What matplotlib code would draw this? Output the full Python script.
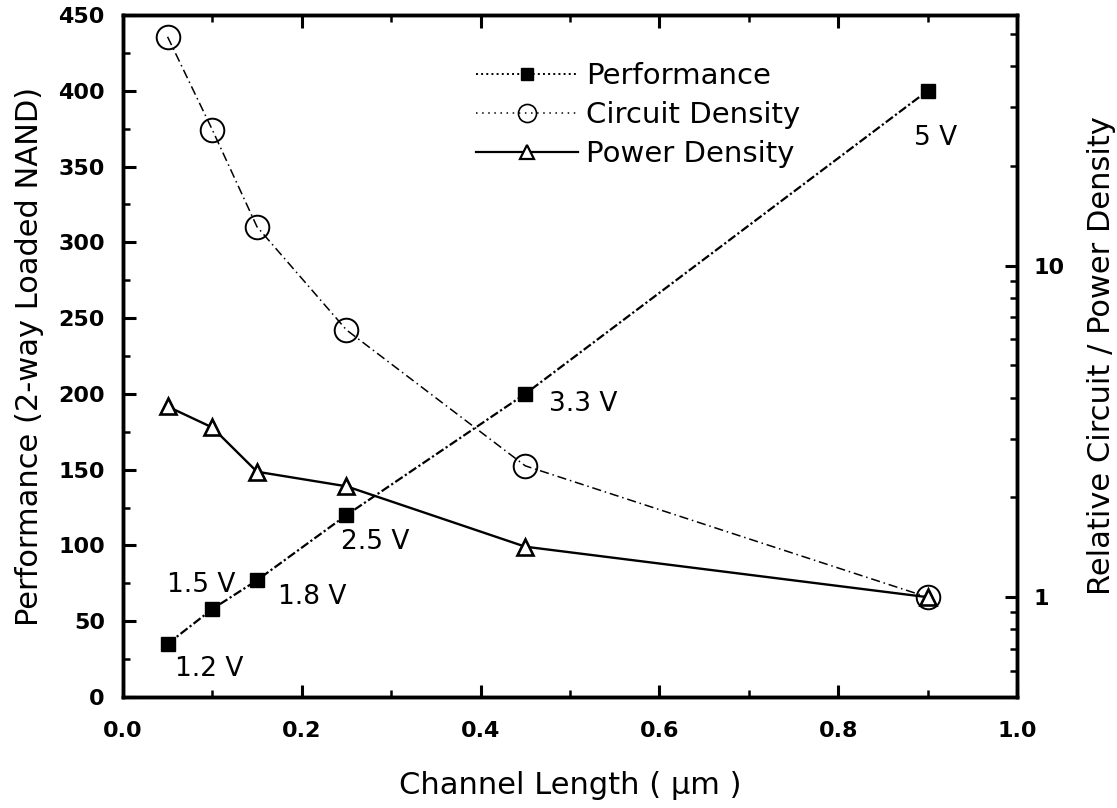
import matplotlib
matplotlib.use("Agg")
import matplotlib.pyplot as plt
from matplotlib.ticker import FixedLocator, NullFormatter, FixedFormatter
from matplotlib.lines import Line2D

plt.rcParams['font.family'] = ['DejaVu Sans']

channel_length = [0.05, 0.10, 0.15, 0.25, 0.45, 0.90]
performance = [35, 58, 77, 120, 200, 400]
circuit_density = [49, 25.7, 13.1, 6.4, 2.49, 1.0]
power_density = [3.76, 3.25, 2.39, 2.16, 1.42, 1.0]
voltage_labels = ["1.2 V", "1.5 V", "1.8 V", "2.5 V", "3.3 V", "5 V"]
label_offsets = [(30, -18), (-8, 17), (40, -12), (21, -19), (42, -7), (6, -34)]

fig = plt.figure(figsize=(11.17, 8.08), dpi=100)
ax = fig.add_axes([0.110, 0.1374, 0.8005, 0.8440])
ax2 = ax.twinx()

# performance on left axis
ax.plot(channel_length, performance, color='black', lw=1.6,
        linestyle=(0, (4, 1.2, 1, 1.2)), marker='s', markersize=10,
        markerfacecolor='black', markeredgecolor='black', zorder=3)
for xv, yv, lab, off in zip(channel_length, performance, voltage_labels, label_offsets):
    ax.annotate(lab, (xv, yv), xytext=off, textcoords='offset points',
                ha='center', va='center', fontsize=19)

# right axis: densities
ax2.set_yscale('log')
ax2.plot(channel_length, circuit_density, color='black', lw=1.1,
         linestyle=(0, (6, 2.5, 1, 2.5)), marker='o', markersize=17,
         markerfacecolor='none', markeredgecolor='black', markeredgewidth=1.4,
         zorder=3)
ax2.plot(channel_length, power_density, color='black', lw=1.7,
         linestyle='-', marker='^', markersize=12,
         markerfacecolor='white', markeredgecolor='black', markeredgewidth=1.9,
         zorder=3)

ax.set_xlim(0.0, 1.0)
ax.set_ylim(0, 450)
ax2.set_ylim(0.5, 57)

ax.set_xticks([0.0, 0.2, 0.4, 0.6, 0.8, 1.0])
ax.set_xticks([0.1, 0.3, 0.5, 0.7, 0.9], minor=True)
ax.set_yticks(range(0, 451, 50))
ax.set_yticks(range(25, 451, 50), minor=True)

ax2.yaxis.set_major_locator(FixedLocator([1, 10]))
ax2.yaxis.set_major_formatter(FixedFormatter(['1', '10']))
ax2.yaxis.set_minor_locator(FixedLocator([0.6, 0.7, 0.8, 0.9, 2, 3, 4, 5, 6, 7, 8, 9, 20, 30, 40, 50]))
ax2.yaxis.set_minor_formatter(NullFormatter())

for a in (ax, ax2):
    for s in a.spines.values():
        s.set_linewidth(2.5)
    a.tick_params(which='major', direction='in', length=9, width=2.2, labelsize=16)
    a.tick_params(which='minor', direction='in', length=5, width=1.8)
for lab in ax.get_xticklabels() + ax.get_yticklabels() + ax2.get_yticklabels():
    lab.set_fontweight('bold')
ax.tick_params(axis='x', which='both', top=True, pad=17)
ax.tick_params(axis='y', pad=13)
ax2.tick_params(axis='y', pad=12)

ax.set_xlabel('Channel Length ( μm )', fontsize=22, labelpad=22)
ax.set_ylabel('Performance (2-way Loaded NAND)', fontsize=22, labelpad=10)
ax2.set_ylabel('Relative Circuit / Power Density', fontsize=22, labelpad=16)

handles = [
    Line2D([], [], color='black', lw=1.4, linestyle=':', marker='s', markersize=9),
    Line2D([], [], color='black', lw=1.1, linestyle=(0, (1, 3)), marker='o', markersize=13,
           markerfacecolor='none', markeredgewidth=1.2),
    Line2D([], [], color='black', lw=1.6, linestyle='-', marker='^', markersize=10,
           markerfacecolor='white', markeredgewidth=1.6),
]
ax.legend(handles, ['Performance', 'Circuit Density', 'Power Density'],
          loc='upper left', bbox_to_anchor=(0.366, 0.970), frameon=False,
          fontsize=21, handlelength=3.5, handletextpad=0.25, labelspacing=0.38)

fig.savefig('out.png', dpi=100)
